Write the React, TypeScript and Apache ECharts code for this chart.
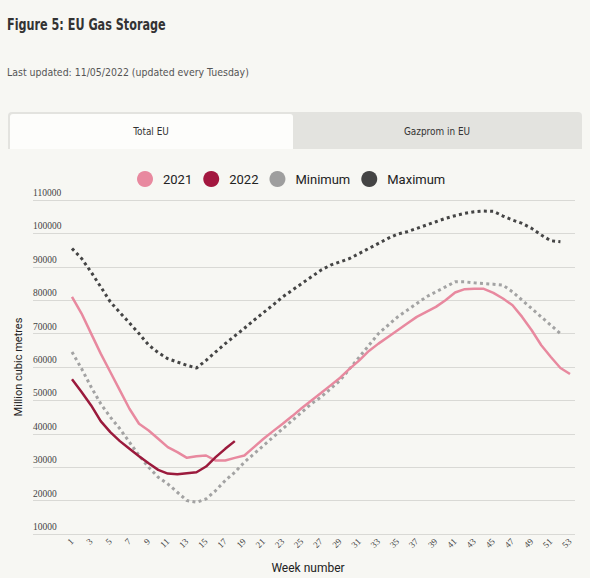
import React, { useEffect, useRef } from "react";
import * as echarts from "echarts";

const weeks: string[] = Array.from({ length: 53 }, (_, i) => String(i + 1));

const y2021: number[] = [
  81000, 76000, 70000, 64000, 58500, 53000, 47500, 43000, 41000, 38500,
  36000, 34500, 32800, 33300, 33500, 32000, 32000, 32800, 33500, 36000,
  38500, 40800, 43000, 45300, 47700, 50000, 52200, 54500, 56800, 59500,
  62000, 64800, 67000, 69000, 71000, 73000, 75000, 76500, 78000, 80000,
  82300, 83300, 83400, 83400, 82200, 80500, 78500, 75000, 71000, 66500,
  63000, 59700, 57900,
];

const y2022: number[] = [
  56300, 52500, 48500, 43800, 40500, 37800, 35500, 33300, 31200, 29200,
  28100, 27900, 28200, 28500, 30200, 33000, 35500, 37800,
];

const yMin: number[] = [
  64500, 59500, 54000, 49000, 45000, 41500, 37500, 33500, 30000, 27000,
  25000, 22500, 20000, 19500, 20500, 23000, 26000, 28500, 31500, 34000,
  36500, 39000, 41500, 44000, 46500, 49000, 51000, 53500, 56000, 59500,
  63000, 66500, 70000, 72500, 75000, 77000, 79000, 81000, 82500, 84000,
  85500, 85500, 85200, 85000, 84800, 84500, 82500, 80000, 77500, 75000,
  72500, 70000,
];

const yMax: number[] = [
  95500, 92500, 88400, 84000, 79500, 76300, 73200, 70000, 66600, 64300,
  62500, 61500, 60500, 59700, 62000, 64500, 67000, 69300, 71600, 74000,
  76300, 78600, 81000, 83000, 85000, 87000, 89000, 90500, 91500, 92500,
  94000, 95500, 97000, 98500, 99800, 100500, 101500, 102500, 103500, 104500,
  105300, 106000, 106500, 106700, 106600, 105200, 104000, 103000, 101500, 99500,
  97800, 97500,
];

const seriesNames: string[] = ["2021", "2022", "Minimum", "Maximum"];

export default function App() {
  const ref = useRef<HTMLDivElement>(null);

  useEffect(() => {
    document.body.style.margin = "0";
    document.body.style.background = "#f7f7f3";
    if (!ref.current) return;
    const chart = echarts.init(ref.current, undefined, { renderer: "svg" });
    const narrow = "'Liberation Sans Narrow', 'DejaVu Sans Condensed', Roboto, sans-serif";
    const option: any = {
      animation: false,
      backgroundColor: "#f7f7f3",
      color: ["#e8899f", "#a3173f", "#a0a0a0", "#454545"],
      legend: {
        data: seriesNames.map((n, i) => ({
          name: n,
          itemStyle: { color: ["#e8899f", "#a3173f", "#9e9e9e", "#444444"][i] },
        })),
        icon: "circle",
        left: 132,
        top: 166,
        itemWidth: 16,
        itemHeight: 16,
        itemGap: 11,
        textStyle: { fontSize: 13, color: "#222", fontFamily: "Roboto", padding: [0, 0, 0, 5] },
      },
      grid: [
        { left: 33, right: 15, top: 200, bottom: 44 },
        { left: 72, right: 20, top: 200, bottom: 44 },
      ],
      xAxis: [
        { type: "value", gridIndex: 0, show: false, min: 0, max: 1 },
        {
          type: "category",
          gridIndex: 1,
          data: weeks,
          boundaryGap: false,
          axisLine: { show: false },
          axisTick: { show: false },
          axisLabel: {
            interval: 1,
            rotate: 45,
            margin: 6,
            fontSize: 9,
            color: "#444",
            fontFamily: "'Liberation Serif', serif",
          },
        },
      ],
      yAxis: [
        {
          type: "value",
          gridIndex: 0,
          min: 10000,
          max: 110000,
          interval: 10000,
          axisLine: { show: false },
          axisTick: { show: false },
          splitLine: { lineStyle: { color: "#d9d9d5", width: 1 } },
          axisLabel: {
            inside: true,
            margin: 0,
            verticalAlign: "bottom",
            padding: [0, 0, 2, 0],
            fontSize: 9.5,
            color: "#444",
            fontFamily: "'Liberation Serif', serif",
            formatter: (v: number) => String(v),
          },
        },
        { type: "value", gridIndex: 1, min: 10000, max: 110000, show: false },
      ],
      series: [
        {
          name: "Maximum",
          type: "line",
          xAxisIndex: 1,
          yAxisIndex: 1,
          data: yMax,
          showSymbol: false,
          lineStyle: { color: "#454545", width: 3, type: [3, 3.3], cap: "butt" },
          itemStyle: { color: "#444444" },
        },
        {
          name: "Minimum",
          type: "line",
          xAxisIndex: 1,
          yAxisIndex: 1,
          data: yMin,
          showSymbol: false,
          lineStyle: { color: "#a3a3a3", width: 3, type: [3, 3.3], cap: "butt" },
          itemStyle: { color: "#9e9e9e" },
        },
        {
          name: "2021",
          type: "line",
          xAxisIndex: 1,
          yAxisIndex: 1,
          data: y2021,
          showSymbol: false,
          lineStyle: { color: "#e8899f", width: 2.5 },
          itemStyle: { color: "#e8899f" },
        },
        {
          name: "2022",
          type: "line",
          xAxisIndex: 1,
          yAxisIndex: 1,
          data: y2022,
          showSymbol: false,
          lineStyle: { color: "#9b1a3c", width: 2.5 },
          itemStyle: { color: "#a3173f" },
        },
      ],
      graphic: [
        {
          type: "text",
          x: 7,
          y: 24,
          scaleX: 0.78,
          style: {
            text: "Figure 5: EU Gas Storage",
            font: `bold 16px ${narrow}`,
            fill: "#333",
            textVerticalAlign: "middle",
          },
        },
        {
          type: "text",
          x: 7,
          y: 72,
          scaleX: 0.95,
          style: {
            text: "Last updated: 11/05/2022 (updated every Tuesday)",
            font: `11px ${narrow}`,
            fill: "#555",
            textVerticalAlign: "middle",
          },
        },
        {
          type: "rect",
          shape: { x: 8, y: 112, width: 574, height: 37, r: [4, 4, 0, 0] },
          style: { fill: "#e3e3df" },
        },
        {
          type: "rect",
          shape: { x: 10, y: 114, width: 283, height: 35, r: [3, 3, 0, 0] },
          style: { fill: "#fdfdfb" },
        },
        {
          type: "text",
          x: 151,
          y: 131,
          scaleX: 0.9,
          style: {
            text: "Total EU",
            font: `11px ${narrow}`,
            fill: "#333",
            textAlign: "center",
            textVerticalAlign: "middle",
          },
        },
        {
          type: "text",
          x: 437,
          y: 131,
          scaleX: 0.9,
          style: {
            text: "Gazprom in EU",
            font: `11px ${narrow}`,
            fill: "#333",
            textAlign: "center",
            textVerticalAlign: "middle",
          },
        },
        {
          type: "text",
          x: 18,
          y: 367,
          rotation: Math.PI / 2,
          style: {
            text: "Million cubic metres",
            font: "11px Roboto, sans-serif",
            fill: "#222",
            textAlign: "center",
            textVerticalAlign: "middle",
          },
        },
        {
          type: "text",
          x: 308,
          y: 568,
          style: {
            text: "Week number",
            font: "12px Roboto, sans-serif",
            fill: "#222",
            textAlign: "center",
            textVerticalAlign: "middle",
          },
        },
      ],
    };
    chart.setOption(option);
    return () => chart.dispose();
  }, []);

  return <div ref={ref} style={{ width: 590, height: 578 }} />;
}
